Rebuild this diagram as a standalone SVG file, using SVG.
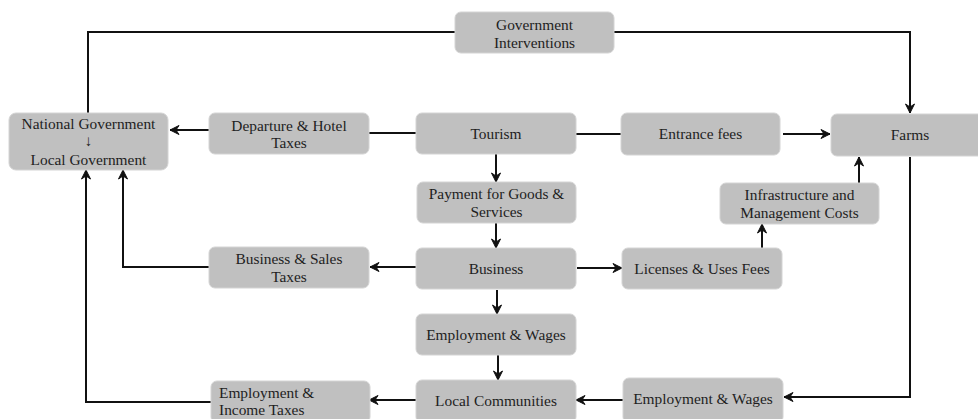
<svg xmlns="http://www.w3.org/2000/svg" width="978" height="419" viewBox="0 0 978 419">
<defs>
<style>
.box{fill:#c0c0c0;stroke:#d4d4d4;stroke-width:1}
.t{font-family:"Liberation Serif","Times New Roman",serif;font-size:15.4px;fill:#1e1e1e;text-anchor:middle}
.tl{text-anchor:start}
.c{fill:none;stroke:#111;stroke-width:2}
</style>
<marker id="ah" markerUnits="userSpaceOnUse" markerWidth="12" markerHeight="12" viewBox="0 0 12 12" refX="10" refY="6" orient="auto">
<path d="M1,1.5 L10,6 L1,10.5 L4,6 Z" fill="#111" stroke="#111" stroke-width="1" stroke-linejoin="round"/>
</marker>
</defs>
<rect width="978" height="419" fill="#ffffff"/>
<g id="connectors">
<path class="c" d="M88,113 V32 H455"/>
<path class="c" d="M614,32 H910 V113" marker-end="url(#ah)"/>
<path class="c" d="M416,133 H369"/>
<path class="c" d="M209,130 H170" marker-end="url(#ah)"/>
<path class="c" d="M576,134 H621"/>
<path class="c" d="M783,134 H830" marker-end="url(#ah)"/>
<path class="c" d="M496,154 V182" marker-end="url(#ah)"/>
<path class="c" d="M496,223 V248" marker-end="url(#ah)"/>
<path class="c" d="M577,268 H622" marker-end="url(#ah)"/>
<path class="c" d="M762,248 V224" marker-end="url(#ah)"/>
<path class="c" d="M859,183 V157" marker-end="url(#ah)"/>
<path class="c" d="M416,267 H370" marker-end="url(#ah)"/>
<path class="c" d="M209,267 H123 V170" marker-end="url(#ah)"/>
<path class="c" d="M497,290 V314" marker-end="url(#ah)"/>
<path class="c" d="M498,355 V380" marker-end="url(#ah)"/>
<path class="c" d="M910,157 V397 H784" marker-end="url(#ah)"/>
<path class="c" d="M623,400 H576" marker-end="url(#ah)"/>
<path class="c" d="M416,400 H369" marker-end="url(#ah)"/>
<path class="c" d="M211,402 H86 V170" marker-end="url(#ah)"/>
</g>
<g id="gov-interventions">
<rect class="box" x="455" y="12" width="159" height="41" rx="6"/>
<text class="t" x="534.5" y="30">Government</text>
<text class="t" x="534.5" y="48">Interventions</text>
</g>
<g id="national-government">
<rect class="box" x="9" y="113" width="159" height="57" rx="7"/>
<text class="t" x="88.5" y="129">National Government</text>
<text class="t" x="88.5" y="146">↓</text>
<text class="t" x="88.5" y="165">Local Government</text>
</g>
<g id="departure-taxes">
<rect class="box" x="209" y="113" width="160" height="41" rx="6"/>
<text class="t" x="289" y="131">Departure &amp; Hotel</text>
<text class="t" x="289" y="148">Taxes</text>
</g>
<g id="tourism">
<rect class="box" x="416" y="113" width="160" height="41" rx="6"/>
<text class="t" x="496" y="139">Tourism</text>
</g>
<g id="entrance-fees">
<rect class="box" x="621" y="113" width="159" height="42" rx="6"/>
<text class="t" x="700.5" y="139">Entrance fees</text>
</g>
<g id="farms">
<rect class="box" x="831" y="114" width="158" height="42" rx="6"/>
<text class="t" x="910" y="140">Farms</text>
</g>
<g id="payment">
<rect class="box" x="417" y="182" width="159" height="41" rx="6"/>
<text class="t" x="496.5" y="199">Payment for Goods &amp;</text>
<text class="t" x="496.5" y="217">Services</text>
</g>
<g id="infrastructure">
<rect class="box" x="720" y="183" width="159" height="41" rx="6"/>
<text class="t" x="799.5" y="200">Infrastructure and</text>
<text class="t" x="799.5" y="218">Management Costs</text>
</g>
<g id="business-sales-taxes">
<rect class="box" x="209" y="247" width="160" height="41" rx="6"/>
<text class="t" x="289" y="264">Business &amp; Sales</text>
<text class="t" x="289" y="282">Taxes</text>
</g>
<g id="business">
<rect class="box" x="416" y="248" width="160" height="41" rx="6"/>
<text class="t" x="496" y="274">Business</text>
</g>
<g id="licenses">
<rect class="box" x="622" y="248" width="160" height="41" rx="6"/>
<text class="t" x="702" y="274">Licenses &amp; Uses Fees</text>
</g>
<g id="employment-wages-center">
<rect class="box" x="416" y="314" width="160" height="41" rx="6"/>
<text class="t" x="496" y="340">Employment &amp; Wages</text>
</g>
<g id="employment-income-taxes">
<rect class="box" x="211" y="381" width="159" height="42" rx="6"/>
<text class="t tl" x="219" y="398">Employment &amp;</text>
<text class="t tl" x="219" y="415">Income Taxes</text>
</g>
<g id="local-communities">
<rect class="box" x="416" y="380" width="160" height="43" rx="6"/>
<text class="t" x="496" y="406">Local Communities</text>
</g>
<g id="employment-wages-right">
<rect class="box" x="623" y="378" width="160" height="45" rx="6"/>
<text class="t" x="703" y="404">Employment &amp; Wages</text>
</g>
</svg>
